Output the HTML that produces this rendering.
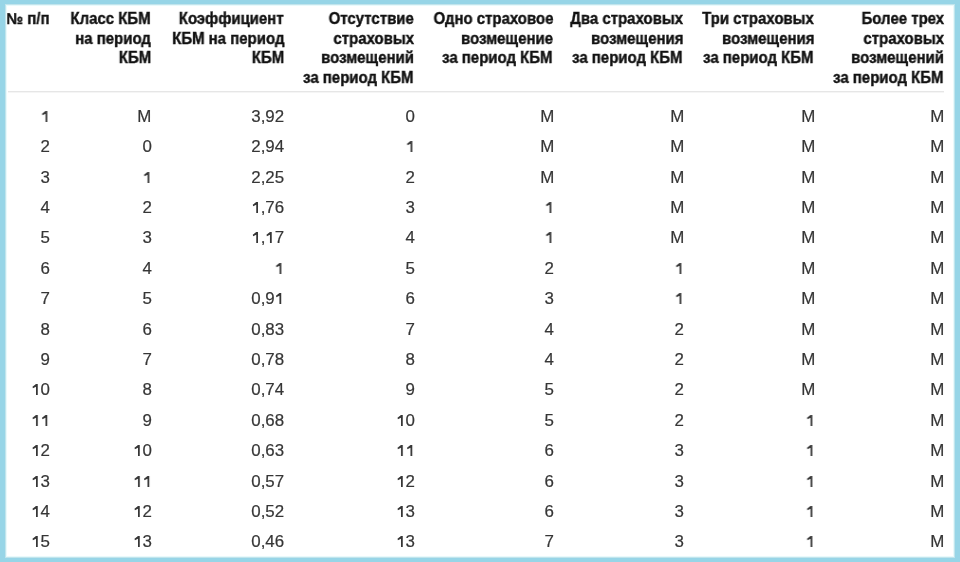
<!DOCTYPE html><html><head><meta charset="utf-8"><style>
html,body{margin:0;padding:0;background:#fff;}
body{width:960px;height:562px;position:relative;overflow:hidden;font-family:"Liberation Sans",sans-serif;}
.frame{position:absolute;left:0;top:0;width:960px;height:562px;box-sizing:border-box;border-style:solid;border-color:#97d5e7;border-width:4px 5px 4px 5px;box-shadow:inset 0 0 0 1px #c2e4ec, inset 0 0 0 2px #e8fafc;}
.t{position:absolute;white-space:nowrap;text-align:right;line-height:0;will-change:transform;}
.h{font-weight:bold;color:#111;-webkit-text-stroke:0.4px #111;font-size:15.8px;transform:scaleX(0.948);transform-origin:100% 0;}
.b{color:#363636;-webkit-text-stroke:0.2px #363636;font-size:16px;transform:scaleX(1.055);transform-origin:100% 0;}
.one{display:inline-block;width:0.556em;height:11.2px;margin-top:-11.2px;vertical-align:baseline;fill:#363636;stroke:none;}
.rule{position:absolute;left:8px;width:936px;top:91px;height:0;border-top:1px solid #e6e6e6;border-bottom:1px solid #f5f5f5;}
</style></head><body>

<div class="rule"></div>
<div class="t h" style="right:910.70px;top:19.03px">№ п/п</div>
<div class="t h" style="right:809.00px;top:19.03px">Класс КБМ</div>
<div class="t h" style="right:809.00px;top:38.53px">на период</div>
<div class="t h" style="right:809.00px;top:58.03px">КБМ</div>
<div class="t h" style="right:676.00px;top:19.03px">Коэффициент</div>
<div class="t h" style="right:676.00px;top:38.53px">КБМ на период</div>
<div class="t h" style="right:676.00px;top:58.03px">КБМ</div>
<div class="t h" style="right:546.00px;top:19.03px">Отсутствие</div>
<div class="t h" style="right:546.00px;top:38.53px">страховых</div>
<div class="t h" style="right:546.00px;top:58.03px">возмещений</div>
<div class="t h" style="right:546.00px;top:77.53px">за период КБМ</div>
<div class="t h" style="right:407.00px;top:19.03px">Одно страховое</div>
<div class="t h" style="right:407.00px;top:38.53px">возмещение</div>
<div class="t h" style="right:407.00px;top:58.03px">за период КБМ</div>
<div class="t h" style="right:277.00px;top:19.03px">Два страховых</div>
<div class="t h" style="right:277.00px;top:38.53px">возмещения</div>
<div class="t h" style="right:277.00px;top:58.03px">за период КБМ</div>
<div class="t h" style="right:146.00px;top:19.03px">Три страховых</div>
<div class="t h" style="right:146.00px;top:38.53px">возмещения</div>
<div class="t h" style="right:146.00px;top:58.03px">за период КБМ</div>
<div class="t h" style="right:16.00px;top:19.03px">Более трех</div>
<div class="t h" style="right:16.00px;top:38.53px">страховых</div>
<div class="t h" style="right:16.00px;top:58.03px">возмещений</div>
<div class="t h" style="right:16.00px;top:77.53px">за период КБМ</div>
<div class="t b" style="right:910.00px;top:116.96px"><svg class="one" viewBox="0 0 89 112" preserveAspectRatio="none"><path d="M47 0L64 0L64 112L47 112L47 28L18 43L14 28Z"/></svg></div>
<div class="t b" style="right:808.50px;top:116.96px">M</div>
<div class="t b" style="right:676.00px;top:116.96px">3,92</div>
<div class="t b" style="right:545.00px;top:116.96px">0</div>
<div class="t b" style="right:405.70px;top:116.96px">M</div>
<div class="t b" style="right:275.80px;top:116.96px">M</div>
<div class="t b" style="right:144.80px;top:116.96px">M</div>
<div class="t b" style="right:15.50px;top:116.96px">M</div>
<div class="t b" style="right:910.00px;top:147.34px">2</div>
<div class="t b" style="right:808.50px;top:147.34px">0</div>
<div class="t b" style="right:676.00px;top:147.34px">2,94</div>
<div class="t b" style="right:545.00px;top:147.34px"><svg class="one" viewBox="0 0 89 112" preserveAspectRatio="none"><path d="M47 0L64 0L64 112L47 112L47 28L18 43L14 28Z"/></svg></div>
<div class="t b" style="right:405.70px;top:147.34px">M</div>
<div class="t b" style="right:275.80px;top:147.34px">M</div>
<div class="t b" style="right:144.80px;top:147.34px">M</div>
<div class="t b" style="right:15.50px;top:147.34px">M</div>
<div class="t b" style="right:910.00px;top:177.72px">3</div>
<div class="t b" style="right:808.50px;top:177.72px"><svg class="one" viewBox="0 0 89 112" preserveAspectRatio="none"><path d="M47 0L64 0L64 112L47 112L47 28L18 43L14 28Z"/></svg></div>
<div class="t b" style="right:676.00px;top:177.72px">2,25</div>
<div class="t b" style="right:545.00px;top:177.72px">2</div>
<div class="t b" style="right:405.70px;top:177.72px">M</div>
<div class="t b" style="right:275.80px;top:177.72px">M</div>
<div class="t b" style="right:144.80px;top:177.72px">M</div>
<div class="t b" style="right:15.50px;top:177.72px">M</div>
<div class="t b" style="right:910.00px;top:208.10px">4</div>
<div class="t b" style="right:808.50px;top:208.10px">2</div>
<div class="t b" style="right:676.00px;top:208.10px"><svg class="one" viewBox="0 0 89 112" preserveAspectRatio="none"><path d="M47 0L64 0L64 112L47 112L47 28L18 43L14 28Z"/></svg>,76</div>
<div class="t b" style="right:545.00px;top:208.10px">3</div>
<div class="t b" style="right:405.70px;top:208.10px"><svg class="one" viewBox="0 0 89 112" preserveAspectRatio="none"><path d="M47 0L64 0L64 112L47 112L47 28L18 43L14 28Z"/></svg></div>
<div class="t b" style="right:275.80px;top:208.10px">M</div>
<div class="t b" style="right:144.80px;top:208.10px">M</div>
<div class="t b" style="right:15.50px;top:208.10px">M</div>
<div class="t b" style="right:910.00px;top:238.48px">5</div>
<div class="t b" style="right:808.50px;top:238.48px">3</div>
<div class="t b" style="right:676.00px;top:238.48px"><svg class="one" viewBox="0 0 89 112" preserveAspectRatio="none"><path d="M47 0L64 0L64 112L47 112L47 28L18 43L14 28Z"/></svg>,<svg class="one" viewBox="0 0 89 112" preserveAspectRatio="none"><path d="M47 0L64 0L64 112L47 112L47 28L18 43L14 28Z"/></svg>7</div>
<div class="t b" style="right:545.00px;top:238.48px">4</div>
<div class="t b" style="right:405.70px;top:238.48px"><svg class="one" viewBox="0 0 89 112" preserveAspectRatio="none"><path d="M47 0L64 0L64 112L47 112L47 28L18 43L14 28Z"/></svg></div>
<div class="t b" style="right:275.80px;top:238.48px">M</div>
<div class="t b" style="right:144.80px;top:238.48px">M</div>
<div class="t b" style="right:15.50px;top:238.48px">M</div>
<div class="t b" style="right:910.00px;top:268.86px">6</div>
<div class="t b" style="right:808.50px;top:268.86px">4</div>
<div class="t b" style="right:676.00px;top:268.86px"><svg class="one" viewBox="0 0 89 112" preserveAspectRatio="none"><path d="M47 0L64 0L64 112L47 112L47 28L18 43L14 28Z"/></svg></div>
<div class="t b" style="right:545.00px;top:268.86px">5</div>
<div class="t b" style="right:405.70px;top:268.86px">2</div>
<div class="t b" style="right:275.80px;top:268.86px"><svg class="one" viewBox="0 0 89 112" preserveAspectRatio="none"><path d="M47 0L64 0L64 112L47 112L47 28L18 43L14 28Z"/></svg></div>
<div class="t b" style="right:144.80px;top:268.86px">M</div>
<div class="t b" style="right:15.50px;top:268.86px">M</div>
<div class="t b" style="right:910.00px;top:299.24px">7</div>
<div class="t b" style="right:808.50px;top:299.24px">5</div>
<div class="t b" style="right:676.00px;top:299.24px">0,9<svg class="one" viewBox="0 0 89 112" preserveAspectRatio="none"><path d="M47 0L64 0L64 112L47 112L47 28L18 43L14 28Z"/></svg></div>
<div class="t b" style="right:545.00px;top:299.24px">6</div>
<div class="t b" style="right:405.70px;top:299.24px">3</div>
<div class="t b" style="right:275.80px;top:299.24px"><svg class="one" viewBox="0 0 89 112" preserveAspectRatio="none"><path d="M47 0L64 0L64 112L47 112L47 28L18 43L14 28Z"/></svg></div>
<div class="t b" style="right:144.80px;top:299.24px">M</div>
<div class="t b" style="right:15.50px;top:299.24px">M</div>
<div class="t b" style="right:910.00px;top:329.62px">8</div>
<div class="t b" style="right:808.50px;top:329.62px">6</div>
<div class="t b" style="right:676.00px;top:329.62px">0,83</div>
<div class="t b" style="right:545.00px;top:329.62px">7</div>
<div class="t b" style="right:405.70px;top:329.62px">4</div>
<div class="t b" style="right:275.80px;top:329.62px">2</div>
<div class="t b" style="right:144.80px;top:329.62px">M</div>
<div class="t b" style="right:15.50px;top:329.62px">M</div>
<div class="t b" style="right:910.00px;top:360.00px">9</div>
<div class="t b" style="right:808.50px;top:360.00px">7</div>
<div class="t b" style="right:676.00px;top:360.00px">0,78</div>
<div class="t b" style="right:545.00px;top:360.00px">8</div>
<div class="t b" style="right:405.70px;top:360.00px">4</div>
<div class="t b" style="right:275.80px;top:360.00px">2</div>
<div class="t b" style="right:144.80px;top:360.00px">M</div>
<div class="t b" style="right:15.50px;top:360.00px">M</div>
<div class="t b" style="right:910.00px;top:390.38px"><svg class="one" viewBox="0 0 89 112" preserveAspectRatio="none"><path d="M47 0L64 0L64 112L47 112L47 28L18 43L14 28Z"/></svg>0</div>
<div class="t b" style="right:808.50px;top:390.38px">8</div>
<div class="t b" style="right:676.00px;top:390.38px">0,74</div>
<div class="t b" style="right:545.00px;top:390.38px">9</div>
<div class="t b" style="right:405.70px;top:390.38px">5</div>
<div class="t b" style="right:275.80px;top:390.38px">2</div>
<div class="t b" style="right:144.80px;top:390.38px">M</div>
<div class="t b" style="right:15.50px;top:390.38px">M</div>
<div class="t b" style="right:910.00px;top:420.76px"><svg class="one" viewBox="0 0 89 112" preserveAspectRatio="none"><path d="M47 0L64 0L64 112L47 112L47 28L18 43L14 28Z"/></svg><svg class="one" viewBox="0 0 89 112" preserveAspectRatio="none"><path d="M47 0L64 0L64 112L47 112L47 28L18 43L14 28Z"/></svg></div>
<div class="t b" style="right:808.50px;top:420.76px">9</div>
<div class="t b" style="right:676.00px;top:420.76px">0,68</div>
<div class="t b" style="right:545.00px;top:420.76px"><svg class="one" viewBox="0 0 89 112" preserveAspectRatio="none"><path d="M47 0L64 0L64 112L47 112L47 28L18 43L14 28Z"/></svg>0</div>
<div class="t b" style="right:405.70px;top:420.76px">5</div>
<div class="t b" style="right:275.80px;top:420.76px">2</div>
<div class="t b" style="right:144.80px;top:420.76px"><svg class="one" viewBox="0 0 89 112" preserveAspectRatio="none"><path d="M47 0L64 0L64 112L47 112L47 28L18 43L14 28Z"/></svg></div>
<div class="t b" style="right:15.50px;top:420.76px">M</div>
<div class="t b" style="right:910.00px;top:451.14px"><svg class="one" viewBox="0 0 89 112" preserveAspectRatio="none"><path d="M47 0L64 0L64 112L47 112L47 28L18 43L14 28Z"/></svg>2</div>
<div class="t b" style="right:808.50px;top:451.14px"><svg class="one" viewBox="0 0 89 112" preserveAspectRatio="none"><path d="M47 0L64 0L64 112L47 112L47 28L18 43L14 28Z"/></svg>0</div>
<div class="t b" style="right:676.00px;top:451.14px">0,63</div>
<div class="t b" style="right:545.00px;top:451.14px"><svg class="one" viewBox="0 0 89 112" preserveAspectRatio="none"><path d="M47 0L64 0L64 112L47 112L47 28L18 43L14 28Z"/></svg><svg class="one" viewBox="0 0 89 112" preserveAspectRatio="none"><path d="M47 0L64 0L64 112L47 112L47 28L18 43L14 28Z"/></svg></div>
<div class="t b" style="right:405.70px;top:451.14px">6</div>
<div class="t b" style="right:275.80px;top:451.14px">3</div>
<div class="t b" style="right:144.80px;top:451.14px"><svg class="one" viewBox="0 0 89 112" preserveAspectRatio="none"><path d="M47 0L64 0L64 112L47 112L47 28L18 43L14 28Z"/></svg></div>
<div class="t b" style="right:15.50px;top:451.14px">M</div>
<div class="t b" style="right:910.00px;top:481.52px"><svg class="one" viewBox="0 0 89 112" preserveAspectRatio="none"><path d="M47 0L64 0L64 112L47 112L47 28L18 43L14 28Z"/></svg>3</div>
<div class="t b" style="right:808.50px;top:481.52px"><svg class="one" viewBox="0 0 89 112" preserveAspectRatio="none"><path d="M47 0L64 0L64 112L47 112L47 28L18 43L14 28Z"/></svg><svg class="one" viewBox="0 0 89 112" preserveAspectRatio="none"><path d="M47 0L64 0L64 112L47 112L47 28L18 43L14 28Z"/></svg></div>
<div class="t b" style="right:676.00px;top:481.52px">0,57</div>
<div class="t b" style="right:545.00px;top:481.52px"><svg class="one" viewBox="0 0 89 112" preserveAspectRatio="none"><path d="M47 0L64 0L64 112L47 112L47 28L18 43L14 28Z"/></svg>2</div>
<div class="t b" style="right:405.70px;top:481.52px">6</div>
<div class="t b" style="right:275.80px;top:481.52px">3</div>
<div class="t b" style="right:144.80px;top:481.52px"><svg class="one" viewBox="0 0 89 112" preserveAspectRatio="none"><path d="M47 0L64 0L64 112L47 112L47 28L18 43L14 28Z"/></svg></div>
<div class="t b" style="right:15.50px;top:481.52px">M</div>
<div class="t b" style="right:910.00px;top:511.90px"><svg class="one" viewBox="0 0 89 112" preserveAspectRatio="none"><path d="M47 0L64 0L64 112L47 112L47 28L18 43L14 28Z"/></svg>4</div>
<div class="t b" style="right:808.50px;top:511.90px"><svg class="one" viewBox="0 0 89 112" preserveAspectRatio="none"><path d="M47 0L64 0L64 112L47 112L47 28L18 43L14 28Z"/></svg>2</div>
<div class="t b" style="right:676.00px;top:511.90px">0,52</div>
<div class="t b" style="right:545.00px;top:511.90px"><svg class="one" viewBox="0 0 89 112" preserveAspectRatio="none"><path d="M47 0L64 0L64 112L47 112L47 28L18 43L14 28Z"/></svg>3</div>
<div class="t b" style="right:405.70px;top:511.90px">6</div>
<div class="t b" style="right:275.80px;top:511.90px">3</div>
<div class="t b" style="right:144.80px;top:511.90px"><svg class="one" viewBox="0 0 89 112" preserveAspectRatio="none"><path d="M47 0L64 0L64 112L47 112L47 28L18 43L14 28Z"/></svg></div>
<div class="t b" style="right:15.50px;top:511.90px">M</div>
<div class="t b" style="right:910.00px;top:542.28px"><svg class="one" viewBox="0 0 89 112" preserveAspectRatio="none"><path d="M47 0L64 0L64 112L47 112L47 28L18 43L14 28Z"/></svg>5</div>
<div class="t b" style="right:808.50px;top:542.28px"><svg class="one" viewBox="0 0 89 112" preserveAspectRatio="none"><path d="M47 0L64 0L64 112L47 112L47 28L18 43L14 28Z"/></svg>3</div>
<div class="t b" style="right:676.00px;top:542.28px">0,46</div>
<div class="t b" style="right:545.00px;top:542.28px"><svg class="one" viewBox="0 0 89 112" preserveAspectRatio="none"><path d="M47 0L64 0L64 112L47 112L47 28L18 43L14 28Z"/></svg>3</div>
<div class="t b" style="right:405.70px;top:542.28px">7</div>
<div class="t b" style="right:275.80px;top:542.28px">3</div>
<div class="t b" style="right:144.80px;top:542.28px"><svg class="one" viewBox="0 0 89 112" preserveAspectRatio="none"><path d="M47 0L64 0L64 112L47 112L47 28L18 43L14 28Z"/></svg></div>
<div class="t b" style="right:15.50px;top:542.28px">M</div>
<div class="frame"></div>
</body></html>
